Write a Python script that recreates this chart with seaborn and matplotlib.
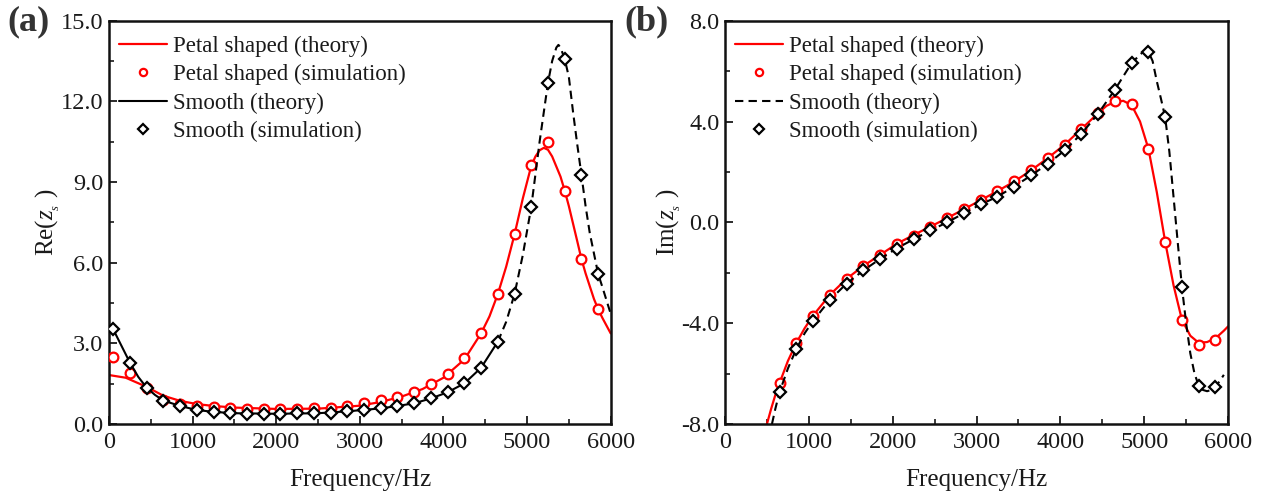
import numpy as np
import pandas as pd
import matplotlib
matplotlib.use("Agg")
import matplotlib.pyplot as plt
import seaborn as sns
from matplotlib.ticker import MultipleLocator, FormatStrFormatter

# ---------------- data ----------------
# Panel (a): Re(z_s)
sim_a_f = [50, 250, 450, 650, 850, 1050, 1250, 1450, 1650, 1850, 2050, 2250, 2450, 2650, 2850,
           3050, 3250, 3450, 3650, 3850, 4050, 4250, 4450, 4650, 4850, 5050, 5250, 5450, 5650, 5850]
petal_sim_a = [2.50, 1.90, 1.32, 0.89, 0.76, 0.68, 0.62, 0.58, 0.56, 0.55, 0.55, 0.56, 0.58, 0.61, 0.66,
               0.78, 0.89, 1.00, 1.20, 1.47, 1.86, 2.44, 3.37, 4.83, 7.05, 9.63, 10.50, 8.68, 6.14, 4.27]
smooth_sim_a = [3.52, 2.28, 1.35, 0.87, 0.67, 0.52, 0.45, 0.40, 0.38, 0.38, 0.38, 0.39, 0.40, 0.42, 0.47,
                0.52, 0.58, 0.67, 0.77, 0.95, 1.18, 1.51, 2.09, 3.06, 4.83, 8.07, 12.69, 13.58, 9.27, 5.58]

petal_th_a_f = [0, 200, 450, 650, 850, 1050, 1250, 1500, 2000, 2500, 3000, 3250, 3500, 3750, 4000,
                4250, 4450, 4550, 4650, 4750, 4850, 4950, 5050, 5100, 5150, 5200, 5250, 5300, 5400,
                5450, 5500, 5600, 5650, 5700, 5800, 5850, 5900, 6000]
petal_th_a = [1.82, 1.72, 1.38, 1.05, 0.86, 0.74, 0.67, 0.61, 0.56, 0.57, 0.68, 0.82, 1.02, 1.30, 1.72,
              2.40, 3.37, 4.00, 4.83, 5.85, 7.05, 8.40, 9.60, 9.95, 10.18, 10.27, 10.20, 9.95, 9.20,
              8.68, 8.10, 6.80, 6.14, 5.60, 4.65, 4.27, 3.95, 3.37]

smooth_th_a_f = [0, 50, 150, 250, 350, 450, 550, 650, 850, 1050, 1250, 1500, 2000, 2500, 2850, 3250,
                 3450, 3650, 3850, 4050, 4250, 4450, 4650, 4750, 4850, 4950, 5050, 5150, 5250, 5300,
                 5350, 5375, 5400, 5450, 5500, 5550, 5600, 5650, 5700, 5750, 5850, 5900, 5950, 6000]
smooth_th_a = [3.65, 3.52, 2.90, 2.28, 1.75, 1.35, 1.08, 0.87, 0.67, 0.52, 0.45, 0.40, 0.38, 0.40, 0.47,
               0.58, 0.67, 0.77, 0.95, 1.18, 1.51, 2.09, 3.06, 3.80, 4.83, 6.30, 8.07, 10.50, 12.69,
               13.50, 14.00, 14.10, 14.00, 13.58, 12.90, 11.60, 10.40, 9.27, 8.10, 7.10, 5.58, 5.10,
               4.60, 4.10]

# Panel (b): Im(z_s)
sim_b_f = [650, 850, 1050, 1250, 1450, 1650, 1850, 2050, 2250, 2450, 2650, 2850, 3050, 3250,
           3450, 3650, 3850, 4050, 4250, 4450, 4650, 4850, 5050, 5250, 5450, 5650, 5850]
petal_sim_b = [-6.38, -4.79, -3.70, -2.88, -2.24, -1.73, -1.29, -0.85, -0.54, -0.17, 0.17, 0.52, 0.88,
               1.24, 1.62, 2.06, 2.55, 3.08, 3.70, 4.33, 4.83, 4.70, 2.92, -0.77, -3.87, -4.86, -4.66]
smooth_sim_b = [-6.74, -5.03, -3.91, -3.08, -2.43, -1.91, -1.45, -1.04, -0.67, -0.32, 0.00, 0.36, 0.71,
                1.02, 1.42, 1.86, 2.32, 2.85, 3.51, 4.31, 5.26, 6.32, 6.77, 4.17, -2.57, -6.48, -6.52]

petal_th_b_f = [500, 550, 600, 650, 750, 850, 950, 1050, 1250, 1450, 1650, 1850, 2050, 2250, 2450,
                2650, 2850, 3050, 3250, 3450, 3650, 3850, 4050, 4250, 4450, 4550, 4650, 4750, 4850,
                4950, 5050, 5150, 5250, 5350, 5450, 5550, 5650, 5750, 5850, 5950, 6000]
petal_th_b = [-8.0, -7.4, -6.85, -6.38, -5.50, -4.79, -4.20, -3.70, -2.88, -2.24, -1.73, -1.29, -0.85,
              -0.50, -0.17, 0.17, 0.52, 0.88, 1.24, 1.62, 2.06, 2.55, 3.08, 3.70, 4.33, 4.62, 4.78,
              4.82, 4.65, 4.00, 2.92, 1.20, -0.77, -2.50, -3.87, -4.50, -4.78, -4.75, -4.60, -4.30,
              -4.13]

smooth_th_b_f = [560, 600, 650, 750, 850, 950, 1050, 1250, 1450, 1650, 1850, 2050, 2250, 2450, 2650,
                 2850, 3050, 3250, 3450, 3650, 3850, 4050, 4250, 4450, 4650, 4850, 4950, 5000, 5050,
                 5100, 5150, 5200, 5250, 5300, 5350, 5400, 5450, 5500, 5550, 5600, 5650, 5700, 5750,
                 5800, 5850, 5900, 5950]
smooth_th_b = [-8.0, -7.4, -6.74, -5.80, -5.03, -4.40, -3.91, -3.08, -2.43, -1.91, -1.45, -1.03, -0.67,
               -0.32, 0.00, 0.36, 0.71, 1.02, 1.42, 1.86, 2.32, 2.85, 3.51, 4.31, 5.26, 6.32, 6.65,
               6.80, 6.77, 6.40, 5.60, 4.90, 4.17, 2.80, 1.00, -0.80, -2.57, -4.00, -5.20, -6.00,
               -6.48, -6.65, -6.70, -6.65, -6.52, -6.30, -6.05]

labels = ["Petal shaped (theory)", "Petal shaped (simulation)", "Smooth (theory)", "Smooth (simulation)"]

# ---------------- style ----------------
sns.set_theme(style="white")
plt.rcParams["font.family"] = ["Liberation Serif", "DejaVu Serif"]
plt.rcParams["mathtext.fontset"] = "custom"
plt.rcParams["mathtext.rm"] = "Liberation Serif"
plt.rcParams["mathtext.it"] = "Liberation Serif:italic"

RED = "#ff0000"
BLK = "#000000"
TXT = "#1a1a1a"

fig = plt.figure(figsize=(12.62, 4.96), dpi=100)
ax_a = fig.add_axes([0.0864, 0.1452, 0.3975, 0.8131])
ax_b = fig.add_axes([0.5745, 0.1452, 0.3986, 0.8131])


def style_axes(ax, ymin, ymax, ymaj, ymin_step, ylabel):
    ax.set_xlim(0, 6000)
    ax.set_ylim(ymin, ymax)
    ax.xaxis.set_major_locator(MultipleLocator(1000))
    ax.xaxis.set_minor_locator(MultipleLocator(500))
    ax.yaxis.set_major_locator(MultipleLocator(ymaj))
    ax.yaxis.set_minor_locator(MultipleLocator(ymin_step))
    ax.yaxis.set_major_formatter(FormatStrFormatter("%.1f"))
    ax.tick_params(axis="both", which="major", direction="in", length=6, width=1.3,
                   labelsize=17.5, pad=4, bottom=True, left=True, top=False, right=False,
                   colors=TXT)
    ax.tick_params(axis="both", which="minor", direction="in", length=3.5, width=1.2,
                   bottom=True, left=True, top=False, right=False, colors=TXT)
    ax.tick_params(axis="x", which="major", pad=6)
    for sp in ax.spines.values():
        sp.set_visible(True)
        sp.set_color("#111111")
        sp.set_linewidth(1.8)
    ax.set_xlabel("Frequency/Hz", fontsize=18, labelpad=11, color=TXT)
    ax.set_ylabel(ylabel, fontsize=18, labelpad=-1, color=TXT)


mk_circle = dict(marker="o", markersize=7, markerfacecolor="white", markeredgecolor=RED,
                 markeredgewidth=1.6, linestyle="none")
mk_diamond = dict(marker="D", markersize=6.5, markerfacecolor="white", markeredgecolor=BLK,
                  markeredgewidth=1.6, linestyle="none")

# ---- panel (a)
sns.lineplot(x=petal_th_a_f, y=petal_th_a, ax=ax_a, color=RED, lw=1.6, label=labels[0],
             sort=False, zorder=2)
sns.lineplot(x=sim_a_f, y=petal_sim_a, ax=ax_a, color=RED, label=labels[1], sort=False,
             zorder=3, **mk_circle)
fa = np.array(smooth_th_a_f)
ya = np.array(smooth_th_a)
cut = fa <= 4650
sns.lineplot(x=fa[cut], y=ya[cut], ax=ax_a, color=BLK, lw=1.5, label=labels[2], sort=False,
             zorder=4)
sns.lineplot(x=fa[fa >= 4650], y=ya[fa >= 4650], ax=ax_a, color=BLK, lw=1.5, sort=False,
             linestyle=(0, (4, 2.5)), zorder=4, legend=False)
sns.lineplot(x=sim_a_f, y=smooth_sim_a, ax=ax_a, color=BLK, label=labels[3], sort=False,
             zorder=5, **mk_diamond)
style_axes(ax_a, 0, 15, 3, 1.5, r"Re($z_{_s}$ )")

# ---- panel (b)
sns.lineplot(x=petal_th_b_f, y=petal_th_b, ax=ax_b, color=RED, lw=1.6, label=labels[0],
             sort=False, zorder=2)
sns.lineplot(x=sim_b_f, y=petal_sim_b, ax=ax_b, color=RED, label=labels[1], sort=False,
             zorder=3, **mk_circle)
sns.lineplot(x=smooth_th_b_f, y=smooth_th_b, ax=ax_b, color=BLK, lw=1.5, label=labels[2],
             sort=False, linestyle=(0, (4, 2.5)), zorder=4)
sns.lineplot(x=sim_b_f, y=smooth_sim_b, ax=ax_b, color=BLK, label=labels[3], sort=False,
             zorder=5, **mk_diamond)
style_axes(ax_b, -8, 8, 4, 2, r"Im($z_{_s}$ )")

for ax in (ax_a, ax_b):
    leg = ax.legend(loc="upper left", bbox_to_anchor=(-0.01, 1.0), frameon=False, fontsize=16.5,
                    handlelength=2.1, handletextpad=0.25, labelspacing=0.32, borderaxespad=0.4,
                    markerscale=0.75, borderpad=0.25)
    for t in leg.get_texts():
        t.set_color(TXT)

fig.text(0.006, 0.955, "(a)", fontsize=26, fontweight="bold", color="#333333", va="center")
fig.text(0.495, 0.955, "(b)", fontsize=26, fontweight="bold", color="#333333", va="center")

fig.savefig("out.png", dpi=100)
